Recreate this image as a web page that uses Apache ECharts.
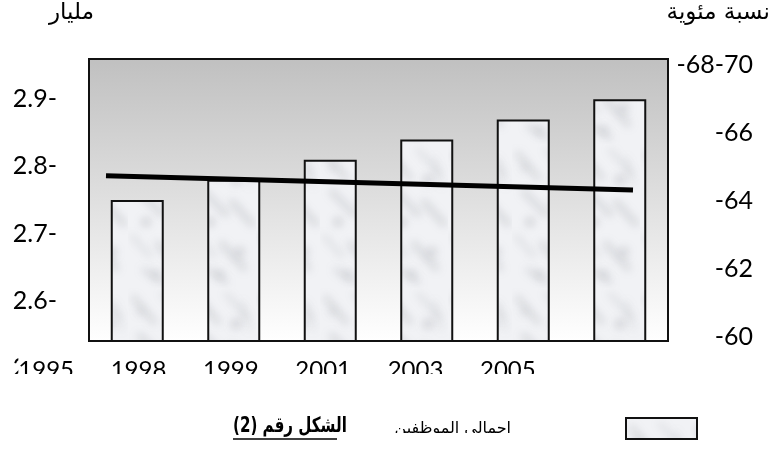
<!DOCTYPE html>
<html>
<head>
<meta charset="utf-8">
<script src="https://cdn.jsdelivr.net/npm/echarts@6/dist/echarts.min.js"></script>
<style>
  html, body { margin: 0; padding: 0; background: #fff; }
  #chart { width: 773px; height: 450px; }
</style>
</head>
<body>
<div id="chart"></div>
<script>
// ---- data ----
const years = ['1995', '1998', '1999', '2001', '2003', '2005'];
const employees = [2.75, 2.78, 2.81, 2.84, 2.87, 2.90];      // مليار
const trendX = [0, 1];                                        // start / end of trend
const trendPct = [64.74, 64.32];                              // نسبة مئوية
const leftTicks = { min: 2.5, max: 2.9, step: 0.1 };
const rightTicks = { min: 60, max: 68, step: 2 };
const seriesName = 'اجمالي الموظفين';
const leftUnit = 'مليار';
const rightUnit = 'نسبة مئوية';
const figureTitle = 'الشكل رقم (2)';

// soft marble texture for the bars
const STREAKS = [
  [6, 10, 26, 34, 5, 0.22], [34, 6, 56, 30, 4, 0.16], [12, 48, 34, 70, 6, 0.2],
  [40, 58, 60, 80, 5, 0.24], [4, 92, 22, 112, 4, 0.16], [30, 100, 52, 124, 6, 0.2],
  [50, 14, 58, 42, 3, 0.14], [16, 126, 34, 138, 5, 0.18]
];
const BLOTS = [
  [44, 36, 5, 0.22], [18, 78, 4, 0.28], [48, 108, 5, 0.2], [12, 24, 3, 0.2], [28, 130, 4, 0.2]
];
function marble() {
  const c = document.createElement('canvas');
  c.width = 64; c.height = 144;
  const g = c.getContext('2d');
  g.fillStyle = '#f1f2f5';
  g.fillRect(0, 0, c.width, c.height);
  g.filter = 'blur(4px)';
  g.lineCap = 'round';
  STREAKS.forEach(([x1, y1, x2, y2, w, a]) => {
    g.strokeStyle = `rgba(100,103,114,${a})`;
    g.lineWidth = w;
    g.beginPath(); g.moveTo(x1, y1); g.lineTo(x2, y2); g.stroke();
  });
  BLOTS.forEach(([x, y, r, a]) => {
    g.fillStyle = `rgba(90,93,104,${a})`;
    g.beginPath(); g.arc(x, y, r, 0, Math.PI * 2); g.fill();
  });
  return c;
}
const texture = { image: marble(), repeat: 'repeat' };

const labelFont = 'Lato, "Open Sans", sans-serif';
const arabicFont = '"DejaVu Sans", sans-serif';

const chart = echarts.init(document.getElementById('chart'), null, { renderer: 'canvas' });

chart.setOption({
  backgroundColor: '#ffffff',
  animation: false,
  grid: [
    // plot frame with bars
    { left: 89, right: 105, top: 59, bottom: 109, show: true, borderColor: '#111', borderWidth: 2,
      backgroundColor: { type: 'linear', x: 0, y: 0, x2: 0, y2: 1,
        colorStops: [{ offset: 0, color: '#c0c0c0' }, { offset: 1, color: '#ffffff' }] } },
    // left value labels
    { left: 89, right: 105, top: 99, bottom: 82 },
    // right percentage labels + trend line
    { left: 106, right: 140, top: 65, bottom: 113 },
    // year labels
    { left: 0, right: 219, top: 300, bottom: 100 }
  ],
  xAxis: [
    { gridIndex: 0, type: 'category', data: years, show: false },
    { gridIndex: 1, type: 'category', data: years, show: false },
    { gridIndex: 2, type: 'value', min: 0, max: 1, show: false },
    { gridIndex: 3, type: 'category', data: years, z: 10,
      axisLine: { show: false }, axisTick: { show: false },
      axisLabel: { margin: 8, fontSize: 24, color: '#000', fontFamily: labelFont,
        backgroundColor: '#fff', padding: [0, 0, 0, 0] } }
  ],
  yAxis: [
    { gridIndex: 0, type: 'value', min: 2.54, max: 2.96, show: false },
    { gridIndex: 1, type: 'value', min: leftTicks.min, max: leftTicks.max, interval: leftTicks.step,
      axisLine: { show: false }, axisTick: { show: false }, splitLine: { show: false },
      axisLabel: { margin: 32, fontSize: 25, color: '#000', fontFamily: labelFont,
        formatter: v => v.toFixed(1) + '-' } },
    { gridIndex: 2, type: 'value', position: 'right', min: rightTicks.min, max: rightTicks.max,
      interval: rightTicks.step,
      axisLine: { show: false }, axisTick: { show: false }, splitLine: { show: false },
      axisLabel: { margin: 120, align: 'right', fontSize: 25, color: '#000', fontFamily: labelFont,
        formatter: v => v === rightTicks.max ? '-68-70' : '-' + v } },
    { gridIndex: 3, type: 'value', show: false }
  ],
  legend: {
    data: [seriesName],
    right: 70, top: 412,
    align: 'right',
    icon: 'rect',
    itemWidth: 71, itemHeight: 21,
    itemStyle: { borderColor: '#111', borderWidth: 2 },
    textStyle: { fontSize: 16, color: '#000', fontFamily: arabicFont, padding: [0, 110, 6, 0] },
    selectedMode: false
  },
  series: [
    { name: seriesName, type: 'bar', xAxisIndex: 0, yAxisIndex: 0, data: employees,
      barWidth: 53, z: 2,
      itemStyle: { color: texture, borderColor: '#111', borderWidth: 2 } },
    { name: 'trend', type: 'line', xAxisIndex: 2, yAxisIndex: 2, z: 5,
      data: trendX.map((x, i) => [x, trendPct[i]]),
      symbol: 'none', lineStyle: { color: '#000', width: 5 } }
  ],
  graphic: [
    // clip strips under the year labels and the legend caption
    { type: 'rect', left: 0, top: 374, shape: { width: 560, height: 16 }, style: { fill: '#fff' }, z: 100 },
    { type: 'rect', left: 380, top: 433, shape: { width: 140, height: 10 }, style: { fill: '#fff' }, z: 100 },
    { type: 'text', left: 49, top: 2, style: { text: leftUnit, fill: '#000', font: '23px ' + arabicFont } },
    { type: 'text', right: 3, top: 2, style: { text: rightUnit, fill: '#000', font: '23px ' + arabicFont } },
    { type: 'text', x: 233, y: 416, scaleX: 0.72, style: { text: figureTitle, fill: '#000', font: 'bold 21px ' + arabicFont } },
    { type: 'line', shape: { x1: 233, y1: 439, x2: 337, y2: 439 }, style: { stroke: '#000', lineWidth: 1.5 } }
  ]
});
</script>
</body>
</html>
